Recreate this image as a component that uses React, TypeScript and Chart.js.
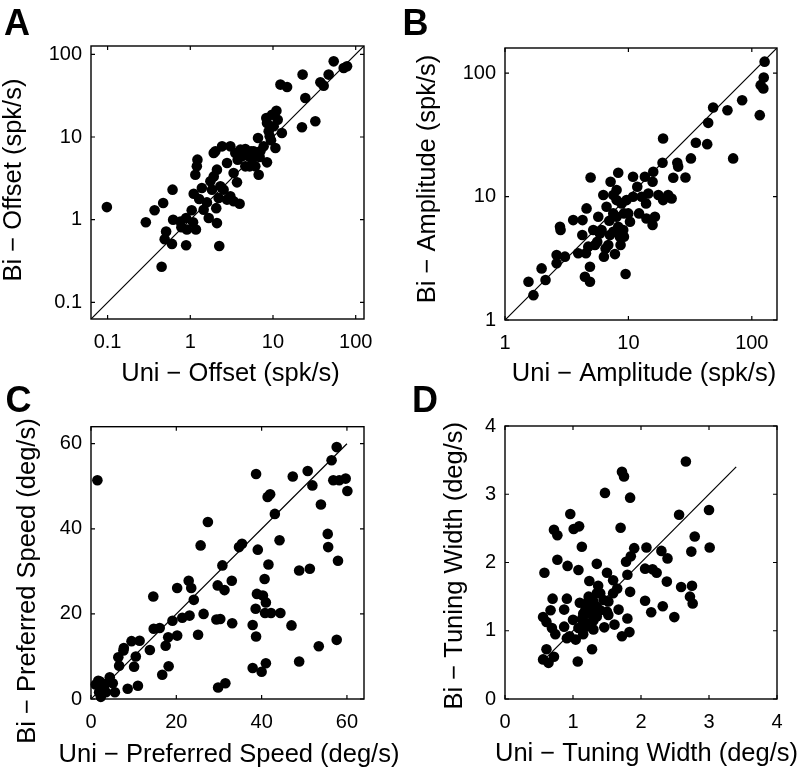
import React, { useEffect, useRef } from "react";
import { Chart, registerables } from "chart.js";

Chart.register(...registerables);

const FONT = '"Liberation Sans", Arial, Helvetica, sans-serif';

// ---------- Panel A: Offset (log-log) ----------
const A_UNI = [0.098, 0.29, 0.37, 0.47, 0.61, 0.51, 0.49, 0.60, 0.45, 0.62, 0.76, 0.89, 0.78, 0.89, 1.08, 1.17, 1.04, 1.10, 1.28, 1.22, 1.20, 1.15, 1.45, 1.67, 2.10, 2.06, 2.24, 1.75, 1.83, 2.10, 1.92, 2.01, 2.42, 2.53, 3.05, 2.78, 3.34, 3.67, 3.05, 3.95, 3.74, 4.63, 5.22, 5.08, 5.84, 6.71, 6.90, 8.46, 6.59, 7.71, 9.12, 8.46, 8.30, 9.72, 11.0, 11.4, 10.7, 12.8, 12.3, 14.8, 22.4, 22.8, 24.6, 32.5, 37.4, 41.0, 47.1, 54.2, 78.6, 71.6, 4.03, 5.73, 7.03, 4.63, 4.22, 6.11, 9.46, 3.50, 5.42, 1.59, 2.20, 2.78, 3.34, 2.31, 1.38, 10.2, 8.87, 1.92, 0.91];
const A_BI = [1.42, 0.93, 1.30, 1.59, 2.31, 0.72, 0.58, 0.51, 0.27, 1.00, 0.95, 1.05, 0.81, 0.49, 0.93, 0.76, 1.30, 2.06, 1.78, 5.32, 4.42, 3.50, 1.32, 1.05, 0.91, 1.38, 0.48, 2.91, 2.31, 4.03, 6.40, 6.71, 7.71, 2.31, 7.71, 4.84, 3.67, 2.83, 1.92, 1.56, 5.32, 7.16, 4.42, 5.84, 6.71, 3.50, 5.73, 4.94, 9.72, 7.71, 10.2, 14.8, 17.0, 18.6, 20.8, 16.2, 7.36, 11.2, 43.0, 40.3, 13.1, 56.8, 29.6, 15.5, 45.8, 41.8, 56.8, 82.2, 71.6, 68.4, 7.03, 5.57, 6.71, 4.42, 5.84, 4.42, 9.12, 6.40, 6.71, 1.62, 1.83, 1.75, 1.67, 2.53, 2.42, 13.5, 11.7, 3.34, 0.76];
const A_RANGE = [0.063, 126];
const A_TICKS = [0.1, 1, 10, 100];
const A_TICK_LABELS = ["0.1", "1", "10", "100"];
const A_DIAG = [0.063, 126];

// ---------- Panel B: Amplitude (log-log) ----------
const B_UNI = [1.55, 1.70, 1.98, 2.13, 2.62, 2.62, 3.06, 2.79, 2.82, 3.57, 4.25, 3.92, 4.23, 4.58, 4.94, 4.53, 4.73, 4.44, 4.88, 4.88, 5.19, 5.36, 5.59, 5.70, 6.26, 6.06, 6.33, 6.53, 7.08, 7.17, 7.54, 7.78, 8.27, 8.02, 7.54, 8.27, 8.81, 8.53, 9.08, 9.49, 9.66, 9.97, 10.3, 10.9, 10.9, 11.8, 12.2, 12.8, 13.6, 14.0, 13.9, 14.5, 15.7, 15.9, 16.4, 15.7, 17.5, 19.1, 18.9, 19.1, 21.0, 22.4, 23.1, 24.9, 25.3, 29.0, 32.1, 35.2, 43.5, 44.3, 48.6, 63.5, 70.6, 83.5, 116, 118, 125, 127, 124, 6.65, 7.00, 9.20, 8.02, 5.88, 6.87, 8.64, 7.54, 9.20, 8.02];
const B_BI = [2.04, 1.59, 2.62, 2.11, 3.36, 2.88, 3.26, 5.70, 5.36, 6.45, 6.45, 3.47, 4.88, 8.02, 14.3, 3.47, 3.93, 2.24, 2.70, 2.04, 5.36, 4.05, 4.31, 6.87, 10.3, 5.36, 3.26, 3.80, 4.88, 13.2, 10.3, 3.42, 15.6, 6.87, 7.31, 5.70, 8.81, 4.73, 5.36, 2.36, 9.37, 7.31, 6.26, 9.97, 14.5, 12.0, 7.31, 9.97, 14.5, 6.65, 8.81, 10.6, 13.2, 15.9, 6.87, 5.88, 10.3, 9.37, 18.8, 29.6, 10.3, 9.66, 14.2, 18.8, 17.5, 14.3, 20.4, 27.3, 26.6, 39.6, 52.7, 50.1, 20.4, 60.4, 45.7, 80.0, 92.2, 124, 75.2, 8.27, 6.37, 7.31, 9.37, 5.03, 4.05, 4.05, 5.19, 4.73, 11.3];
const B_RANGE = [1, 160];
const B_TICKS = [1, 10, 100];
const B_TICK_LABELS = ["1", "10", "100"];
const B_DIAG = [1, 160];

// ---------- Panel C: Preferred speed (linear) ----------
const C_UNI = [1.5, 38.7, 47.3, 50.8, 57.6, 56.4, 56.8, 58.2, 59.7, 60.1, 51.9, 41.4, 42.0, 53.9, 43.1, 27.4, 34.7, 35.4, 44.2, 55.5, 55.6, 57.9, 25.7, 39.1, 30.8, 41.6, 48.8, 51.3, 33.0, 40.7, 22.9, 20.2, 23.5, 29.7, 31.3, 14.6, 24.1, 38.9, 40.3, 41.0, 40.8, 42.2, 44.4, 38.6, 26.4, 23.1, 21.4, 29.4, 30.3, 33.1, 37.9, 47.0, 19.1, 25.1, 38.7, 14.7, 16.1, 18.1, 20.2, 17.5, 57.6, 53.4, 13.8, 11.4, 9.5, 7.7, 6.4, 6.6, 10.5, 10.1, 18.2, 16.7, 37.9, 40.0, 41.0, 48.8, 29.8, 31.5, 8.6, 11.0, 1.1, 2.1, 3.0, 4.4, 1.9, 3.5, 5.6, 5.1, 2.3, 7.6, 1.7, 3.3];
const C_BI = [51.4, 52.9, 52.3, 53.6, 59.2, 56.1, 51.4, 51.4, 51.8, 48.9, 50.2, 47.5, 48.1, 45.7, 43.5, 41.6, 35.7, 36.5, 37.3, 38.8, 35.7, 32.5, 36.1, 35.1, 31.4, 31.6, 30.2, 30.6, 27.8, 28.2, 27.8, 26.1, 26.1, 26.7, 25.6, 24.1, 23.3, 24.7, 24.3, 22.7, 20.2, 20.2, 20.2, 21.2, 20.0, 19.6, 19.1, 18.7, 18.8, 17.8, 17.4, 17.3, 18.4, 15.1, 14.7, 16.5, 16.7, 14.5, 14.9, 12.5, 13.9, 12.4, 11.5, 13.7, 13.6, 12.0, 9.8, 7.8, 10.0, 7.6, 7.7, 5.7, 7.3, 6.4, 8.4, 8.8, 2.7, 3.7, 2.4, 3.1, 3.4, 4.1, 2.7, 5.1, 1.6, 1.6, 1.6, 3.7, 0.5, 11.4, 4.3, 3.5];
const C_RANGE = [0, 64];
const C_TICKS = [0, 20, 40, 60];
const C_TICK_LABELS = ["0", "20", "40", "60"];
const C_DIAG = [0, 60];

// ---------- Panel D: Tuning width (linear) ----------
const D_UNI = [2.66, 1.72, 1.75, 1.47, 1.84, 0.96, 3.00, 2.56, 0.72, 0.77, 1.01, 1.09, 1.70, 2.79, 1.13, 2.08, 1.90, 2.30, 2.74, 3.01, 2.39, 0.77, 0.92, 1.08, 1.35, 1.78, 1.85, 0.58, 1.50, 2.06, 2.17, 2.23, 1.59, 1.24, 1.37, 1.80, 2.38, 2.59, 2.75, 1.65, 1.84, 0.70, 0.91, 1.59, 2.06, 2.72, 2.76, 2.15, 2.32, 0.67, 0.87, 1.10, 1.24, 1.30, 1.18, 1.40, 1.50, 1.67, 2.49, 1.80, 0.56, 0.61, 0.69, 0.74, 0.87, 0.91, 1.04, 1.00, 1.13, 1.19, 1.15, 1.30, 1.46, 1.61, 1.72, 1.83, 1.28, 0.61, 0.56, 0.64, 0.72, 1.07, 1.27, 1.35, 1.23, 1.40, 1.52, 1.08, 0.95, 1.45, 1.52, 1.35, 1.20, 1.25, 1.30, 1.15, 1.35, 1.22, 1.28, 1.18];
const D_BI = [3.48, 3.33, 3.26, 3.02, 2.95, 2.71, 2.77, 2.70, 2.48, 2.40, 2.49, 2.53, 2.51, 2.38, 2.23, 2.22, 2.21, 2.17, 2.16, 2.22, 2.06, 2.04, 1.95, 1.89, 1.98, 2.01, 2.09, 1.85, 1.85, 1.91, 1.90, 1.85, 1.74, 1.73, 1.66, 1.82, 1.72, 1.64, 1.66, 1.62, 1.57, 1.47, 1.47, 1.55, 1.44, 1.50, 1.40, 1.27, 1.36, 1.30, 1.31, 1.41, 1.39, 1.43, 1.30, 1.30, 1.28, 1.31, 1.20, 1.18, 1.20, 1.13, 1.04, 0.95, 1.06, 0.89, 0.87, 1.16, 1.17, 1.06, 0.95, 1.02, 1.05, 1.09, 0.92, 0.98, 0.73, 0.73, 0.58, 0.53, 0.62, 0.55, 1.26, 1.21, 1.50, 1.55, 1.23, 1.04, 0.92, 1.45, 1.43, 1.55, 1.35, 1.25, 1.15, 1.25, 1.35, 1.42, 1.38, 1.12];
const D_RANGE = [0, 4];
const D_TICKS = [0, 1, 2, 3, 4];
const D_TICK_LABELS = ["0", "1", "2", "3", "4"];
const D_DIAG = [0.6, 3.4];

const boxPlugin = {
  id: "matlabBox",
  beforeDatasetsDraw(chart: any) {
    const { ctx, chartArea, scales } = chart;
    const { left, right, top, bottom } = chartArea;
    const tl = 4;
    ctx.save();
    ctx.strokeStyle = "#000";
    ctx.lineWidth = 1.4;
    ctx.strokeRect(left, top, right - left, bottom - top);
    ctx.beginPath();
    ctx.lineWidth = 1.2;
    scales.x.ticks.forEach((t: any) => {
      const px = scales.x.getPixelForValue(t.value);
      ctx.moveTo(px, bottom);
      ctx.lineTo(px, bottom - tl);
      ctx.moveTo(px, top);
      ctx.lineTo(px, top + tl);
    });
    scales.y.ticks.forEach((t: any) => {
      const py = scales.y.getPixelForValue(t.value);
      ctx.moveTo(left, py);
      ctx.lineTo(left + tl, py);
      ctx.moveTo(right, py);
      ctx.lineTo(right - tl, py);
    });
    ctx.stroke();
    ctx.restore();
  },
  afterDraw(chart: any) {
    const o = chart.options.plugins.axisTitles;
    if (!o) return;
    const { ctx } = chart;
    ctx.save();
    ctx.fillStyle = "#000";
    ctx.font = `25.5px ${FONT}`;
    ctx.textAlign = "center";
    ctx.textBaseline = "middle";
    ctx.fillText(o.xText, o.xPos[0], o.xPos[1]);
    ctx.translate(o.yPos[0], o.yPos[1]);
    ctx.rotate(-Math.PI / 2);
    ctx.fillText(o.yText, 0, 0);
    ctx.restore();
  },
};

type PanelProps = {
  left: number;
  top: number;
  width: number;
  height: number;
  scaleType: "logarithmic" | "linear";
  xs: number[];
  ys: number[];
  range: number[];
  ticks: number[];
  tickLabels: string[];
  diag: number[];
  xTitle: string;
  yTitle: string;
  padTop: number;
  padRight: number;
  yAxisWidth: number;
  xAxisHeight: number;
  xTitleAt: number[]; // page coords of the title centre
  yTitleAt: number[];
};

function Panel(p: PanelProps) {
  const ref = useRef<HTMLCanvasElement | null>(null);
  useEffect(() => {
    if (!ref.current) return;
    const label = (v: any) => {
      const i = p.ticks.findIndex((t) => Math.abs(t - Number(v)) < 1e-9);
      return i >= 0 ? p.tickLabels[i] : "";
    };
    const axisCommon = (isX: boolean) => ({
      type: p.scaleType,
      min: p.range[0],
      max: p.range[1],
      bounds: "data",
      position: isX ? "bottom" : "left",
      grid: { display: false, drawTicks: false },
      border: { display: false },
      ticks: {
        color: "#000",
        font: { family: FONT, size: 20 },
        padding: isX ? 11.5 : 9,
        autoSkip: false,
        maxRotation: 0,
        minRotation: 0,
        callback: label,
      },
      afterBuildTicks: (s: any) => {
        s.ticks = p.ticks.map((v) => ({ value: v }));
      },
      afterFit: (s: any) => {
        if (isX) s.height = p.xAxisHeight;
        else s.width = p.yAxisWidth;
      },
      title: { display: false },
    });
    const chart = new Chart(ref.current, {
      type: "scatter",
      data: {
        datasets: [
          {
            type: "scatter",
            data: p.diag.map((v) => ({ x: v, y: v })),
            showLine: true,
            borderColor: "#000",
            borderWidth: 1.2,
            pointRadius: 0,
            order: 1,
          } as any,
          {
            type: "scatter",
            data: p.xs.map((x, i) => ({ x, y: p.ys[i] })),
            pointRadius: 5.3,
            pointBackgroundColor: "#000",
            pointBorderWidth: 0,
            borderWidth: 0,
            clip: false,
            order: 2,
          } as any,
        ],
      },
      options: {
        responsive: false,
        maintainAspectRatio: false,
        animation: false,
        layout: { padding: { top: p.padTop, right: p.padRight, left: 0, bottom: 0 } },
        plugins: {
          legend: { display: false },
          tooltip: { enabled: false },
          axisTitles: {
            xText: p.xTitle,
            yText: p.yTitle,
            xPos: [p.xTitleAt[0] - p.left, p.xTitleAt[1] - p.top],
            yPos: [p.yTitleAt[0] - p.left, p.yTitleAt[1] - p.top],
          },
        } as any,
        events: [],
        scales: { x: axisCommon(true) as any, y: axisCommon(false) as any },
      },
      plugins: [boxPlugin as any],
    });
    return () => chart.destroy();
  }, []);
  return (
    <canvas
      ref={ref}
      width={p.width}
      height={p.height}
      style={{ position: "absolute", left: p.left, top: p.top, width: p.width, height: p.height }}
    />
  );
}

const letterStyle = (left: number, top: number): React.CSSProperties => ({
  position: "absolute",
  left,
  top,
  font: `bold 36px ${FONT}`,
  lineHeight: "36px",
  color: "#000",
});

export default function App() {
  return (
    <div style={{ position: "absolute", left: 0, top: 0, width: 802, height: 770, background: "#fff", overflow: "hidden" }}>
      <Panel
        left={0} top={0} width={400} height={387}
        scaleType="logarithmic" xs={A_UNI} ys={A_BI} range={A_RANGE}
        ticks={A_TICKS} tickLabels={A_TICK_LABELS} diag={A_DIAG}
        xTitle="Uni − Offset (spk/s)" yTitle="Bi − Offset (spk/s)"
        padTop={46} padRight={36} yAxisWidth={91} xAxisHeight={68}
        xTitleAt={[230.5, 374]} yTitleAt={[14.3, 180]}
      />
      <Panel
        left={400} top={0} width={402} height={387}
        scaleType="logarithmic" xs={B_UNI} ys={B_BI} range={B_RANGE}
        ticks={B_TICKS} tickLabels={B_TICK_LABELS} diag={B_DIAG}
        xTitle="Uni − Amplitude (spk/s)" yTitle="Bi − Amplitude (spk/s)"
        padTop={48} padRight={25} yAxisWidth={105} xAxisHeight={67}
        xTitleAt={[644, 374]} yTitleAt={[428, 179]}
      />
      <Panel
        left={0} top={380} width={400} height={390}
        scaleType="linear" xs={C_UNI} ys={C_BI} range={C_RANGE}
        ticks={C_TICKS} tickLabels={C_TICK_LABELS} diag={C_DIAG}
        xTitle="Uni − Preferred Speed (deg/s)" yTitle="Bi − Preferred Speed (deg/s)"
        padTop={46.7} padRight={36} yAxisWidth={91} xAxisHeight={71}
        xTitleAt={[229, 754.6]} yTitleAt={[28, 581]}
      />
      <Panel
        left={400} top={380} width={402} height={390}
        scaleType="linear" xs={D_UNI} ys={D_BI} range={D_RANGE}
        ticks={D_TICKS} tickLabels={D_TICK_LABELS} diag={D_DIAG}
        xTitle="Uni − Tuning Width (deg/s)" yTitle="Bi − Tuning Width (deg/s)"
        padTop={46} padRight={25} yAxisWidth={105} xAxisHeight={71}
        xTitleAt={[646.5, 754]} yTitleAt={[454.6, 565.7]}
      />
      <div style={letterStyle(4, 4.5)}>A</div>
      <div style={letterStyle(402.5, 4.5)}>B</div>
      <div style={letterStyle(5.5, 381.5)}>C</div>
      <div style={letterStyle(412, 381.5)}>D</div>
    </div>
  );
}
